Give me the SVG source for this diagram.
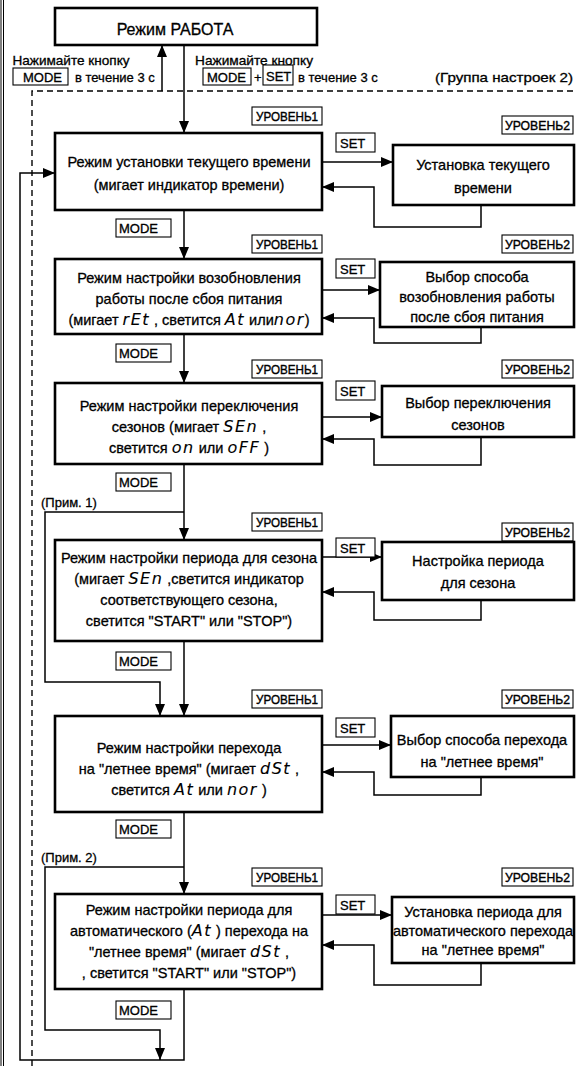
<svg xmlns="http://www.w3.org/2000/svg" width="576" height="1066" viewBox="0 0 576 1066">
<defs>
<marker id="ah" markerUnits="userSpaceOnUse" markerWidth="12" markerHeight="10" refX="12" refY="5" orient="auto"><path d="M0,0 L12,5 L0,10 z" fill="#000"/></marker>
<style>
text{font-family:"Liberation Sans",Arial,sans-serif;fill:#000;stroke:#000;stroke-width:0.3}
.t{font-size:14.5px;text-anchor:middle}
.s{font-size:13px}
.m{font-size:13px}
.lb{fill:#fff;stroke:#000;stroke-width:1.1}
.bx{fill:#fff;stroke:#000;stroke-width:2.6}
.c{fill:none;stroke:#000;stroke-width:1.5}
.d{fill:none;stroke:#000;stroke-width:1.4;stroke-dasharray:6 4}
.a{marker-end:url(#ah)}
.lv{font-size:13px;stroke-width:0.4}
.g{font-family:"DejaVu Sans",sans-serif;font-style:italic;font-size:16px;letter-spacing:1.5px;stroke-width:0.1}
</style>
</defs>
<rect width="576" height="1066" fill="#fff"/>
<g id="frame">
<line x1="1" y1="0" x2="1" y2="1066" stroke="#000" stroke-width="1"/>
<line x1="3.5" y1="0" x2="3.5" y2="1066" stroke="#000" stroke-width="1"/>
<path class="d" d="M32,1066 V91 H576"/>
</g>
<g id="connectors">
<path class="c a" d="M162,91 V45"/>
<path class="c a" d="M184,45 V133"/>
<path class="c a" d="M184,210 V259"/>
<path class="c a" d="M184,334 V383"/>
<path class="c a" d="M184,464 V540"/>
<path class="c a" d="M184,641 V716"/>
<path class="c a" d="M184,812 V894"/>
<path class="c a" d="M184,989 V1060 H20 V173 H55"/>
<path class="c a" d="M184,512 H45 V682 H160 V716"/>
<path class="c a" d="M184,867 H45 V1030 H160 V1060"/>
<path class="c a" d="M322,162 H393"/>
<path class="c a" d="M322,290 H380"/>
<path class="c a" d="M322,417 H382"/>
<path class="c a" d="M322,557 H382"/>
<path class="c a" d="M322,745 H391"/>
<path class="c a" d="M322,915 H392"/>
<path class="c a" d="M481,205 V227 H374 V187 H322"/>
<path class="c a" d="M481,327 V343 H374 V318 H322"/>
<path class="c a" d="M481,437 V465 H374 V439 H322"/>
<path class="c a" d="M481,600 V620 H374 V592 H322"/>
<path class="c a" d="M481,777 V795 H374 V772 H322"/>
<path class="c a" d="M481,963 V985 H374 V945 H322"/>
</g>
<g id="top">
<rect class="bx" x="55" y="8" width="262" height="37"/>
<text x="175" y="35" font-size="16" text-anchor="middle">Режим РАБОТА</text>
</g>
<g id="hint1">
<text class="s" x="12.5" y="65" textLength="117" lengthAdjust="spacingAndGlyphs">Нажимайте  кнопку</text>
<rect class="lb" x="13" y="68" width="55" height="17"/>
<text class="m" x="23" y="82">MODE</text>
<text class="s" x="75" y="82">в течение 3 с</text>
</g>
<g id="hint2">
<text class="s" x="195" y="65" textLength="118" lengthAdjust="spacingAndGlyphs">Нажимайте  кнопку</text>
<rect class="lb" x="203" y="68" width="48" height="17"/>
<text class="m" x="207" y="82">MODE</text>
<text class="s" x="254" y="82">+</text>
<rect class="lb" x="263" y="65" width="30" height="20"/>
<text class="m" x="266" y="81">SET</text>
<text class="s" x="298" y="82">в течение 3 с</text>
<text class="s" x="435" y="82" textLength="138" lengthAdjust="spacingAndGlyphs">(Группа настроек 2)</text>
</g>
<g id="labels">
<rect class="lb" x="252" y="107" width="70" height="18"/><text class="lv" x="256" y="121" textLength="62" lengthAdjust="spacingAndGlyphs">УРОВЕНЬ1</text>
<rect class="lb" x="502" y="116" width="71" height="18"/><text class="lv" x="505" y="130" textLength="65" lengthAdjust="spacingAndGlyphs">УРОВЕНЬ2</text>
<rect class="lb" x="252" y="235" width="70" height="18"/><text class="lv" x="256" y="249" textLength="62" lengthAdjust="spacingAndGlyphs">УРОВЕНЬ1</text>
<rect class="lb" x="502" y="235" width="71" height="18"/><text class="lv" x="505" y="249" textLength="65" lengthAdjust="spacingAndGlyphs">УРОВЕНЬ2</text>
<rect class="lb" x="252" y="360" width="70" height="18"/><text class="lv" x="256" y="374" textLength="62" lengthAdjust="spacingAndGlyphs">УРОВЕНЬ1</text>
<rect class="lb" x="502" y="360" width="71" height="18"/><text class="lv" x="505" y="374" textLength="65" lengthAdjust="spacingAndGlyphs">УРОВЕНЬ2</text>
<rect class="lb" x="252" y="513" width="70" height="18"/><text class="lv" x="256" y="527" textLength="62" lengthAdjust="spacingAndGlyphs">УРОВЕНЬ1</text>
<rect class="lb" x="502" y="523" width="71" height="18"/><text class="lv" x="505" y="537" textLength="65" lengthAdjust="spacingAndGlyphs">УРОВЕНЬ2</text>
<rect class="lb" x="252" y="690" width="70" height="18"/><text class="lv" x="256" y="704" textLength="62" lengthAdjust="spacingAndGlyphs">УРОВЕНЬ1</text>
<rect class="lb" x="502" y="690" width="71" height="18"/><text class="lv" x="505" y="704" textLength="65" lengthAdjust="spacingAndGlyphs">УРОВЕНЬ2</text>
<rect class="lb" x="252" y="868" width="70" height="18"/><text class="lv" x="256" y="882" textLength="62" lengthAdjust="spacingAndGlyphs">УРОВЕНЬ1</text>
<rect class="lb" x="502" y="868" width="71" height="18"/><text class="lv" x="505" y="882" textLength="65" lengthAdjust="spacingAndGlyphs">УРОВЕНЬ2</text>
<rect class="lb" x="336" y="133" width="39" height="19"/><text class="m" x="340" y="148">SET</text>
<rect class="lb" x="336" y="259" width="39" height="19"/><text class="m" x="340" y="274">SET</text>
<rect class="lb" x="336" y="381" width="39" height="19"/><text class="m" x="340" y="396">SET</text>
<rect class="lb" x="336" y="538" width="39" height="19"/><text class="m" x="340" y="553">SET</text>
<rect class="lb" x="336" y="718" width="39" height="19"/><text class="m" x="340" y="733">SET</text>
<rect class="lb" x="336" y="895" width="39" height="19"/><text class="m" x="340" y="910">SET</text>
<rect class="lb" x="116" y="219" width="55" height="18"/><text class="m" x="119" y="233">MODE</text>
<rect class="lb" x="116" y="344" width="55" height="18"/><text class="m" x="119" y="358">MODE</text>
<rect class="lb" x="116" y="473" width="55" height="18"/><text class="m" x="119" y="487">MODE</text>
<rect class="lb" x="116" y="652" width="55" height="18"/><text class="m" x="119" y="666">MODE</text>
<rect class="lb" x="116" y="820" width="55" height="18"/><text class="m" x="119" y="834">MODE</text>
<rect class="lb" x="116" y="1001" width="55" height="18"/><text class="m" x="119" y="1015">MODE</text>
<text class="s" x="41" y="507">(Прим. 1)</text>
<text class="s" x="41" y="862">(Прим. 2)</text>
</g>
<g id="n1">
<rect class="bx" x="55" y="133" width="267" height="77"/>
<text class="t" x="189" y="167">Режим установки текущего времени</text>
<text class="t" x="189" y="190">(мигает индикатор времени)</text>
</g>
<g id="n1b">
<rect class="bx" x="393" y="145" width="181" height="60"/>
<text class="t" x="483" y="170">Установка текущего</text>
<text class="t" x="483" y="193">времени</text>
</g>
<g id="n2">
<rect class="bx" x="55" y="259" width="267" height="75"/>
<text class="t" x="189" y="283">Режим настройки возобновления</text>
<text class="t" x="189" y="304">работы после сбоя питания</text>
<text class="t" x="189" y="325">(мигает <tspan class="g">rEt</tspan> , светится <tspan class="g">At</tspan> или<tspan class="g">nor</tspan>)</text>
</g>
<g id="n2b">
<rect class="bx" x="380" y="262" width="194" height="65"/>
<text class="t" x="477" y="282">Выбор способа</text>
<text class="t" x="477" y="302">возобновления работы</text>
<text class="t" x="477" y="322">после сбоя питания</text>
</g>
<g id="n3">
<rect class="bx" x="55" y="383" width="267" height="81"/>
<text class="t" x="189" y="411">Режим настройки переключения</text>
<text class="t" x="189" y="432">сезонов (мигает <tspan class="g">SEn</tspan> ,</text>
<text class="t" x="189" y="453">светится <tspan class="g">on</tspan>  или  <tspan class="g">oFF</tspan> )</text>
</g>
<g id="n3b">
<rect class="bx" x="382" y="386" width="192" height="51"/>
<text class="t" x="478" y="408">Выбор переключения</text>
<text class="t" x="478" y="430">сезонов</text>
</g>
<g id="n4">
<rect class="bx" x="55" y="540" width="267" height="101"/>
<text class="t" x="189" y="563">Режим настройки периода для сезона</text>
<text class="t" x="189" y="584">(мигает <tspan class="g">SEn</tspan> ,светится индикатор</text>
<text class="t" x="189" y="605">соответствующего сезона,</text>
<text class="t" x="189" y="626">светится "START" или "STOP")</text>
</g>
<g id="n4b">
<rect class="bx" x="382" y="542" width="192" height="58"/>
<text class="t" x="478" y="566">Настройка периода</text>
<text class="t" x="478" y="588">для сезона</text>
</g>
<g id="n5">
<rect class="bx" x="55" y="716" width="267" height="96"/>
<text class="t" x="189" y="753">Режим настройки перехода</text>
<text class="t" x="189" y="774">на "летнее время" (мигает <tspan class="g">dSt</tspan> ,</text>
<text class="t" x="189" y="795">светится <tspan class="g">At</tspan> или <tspan class="g">nor</tspan> )</text>
</g>
<g id="n5b">
<rect class="bx" x="391" y="716" width="183" height="61"/>
<text class="t" x="482" y="745">Выбор способа перехода</text>
<text class="t" x="482" y="767">на "летнее время"</text>
</g>
<g id="n6">
<rect class="bx" x="55" y="894" width="267" height="95"/>
<text class="t" x="189" y="915">Режим настройки периода для</text>
<text class="t" x="189" y="936">автоматического (<tspan class="g">At</tspan> ) перехода на</text>
<text class="t" x="189" y="957">"летнее время" (мигает <tspan class="g">dSt</tspan> ,</text>
<text class="t" x="189" y="978">, светится "START" или "STOP")</text>
</g>
<g id="n6b">
<rect class="bx" x="392" y="897" width="182" height="66"/>
<text class="t" x="483" y="917" font-size="13.5">Установка периода для</text>
<text class="t" x="483" y="936" font-size="13.5">автоматического перехода</text>
<text class="t" x="483" y="955" font-size="13.5">на "летнее время"</text>
</g>
</svg>
